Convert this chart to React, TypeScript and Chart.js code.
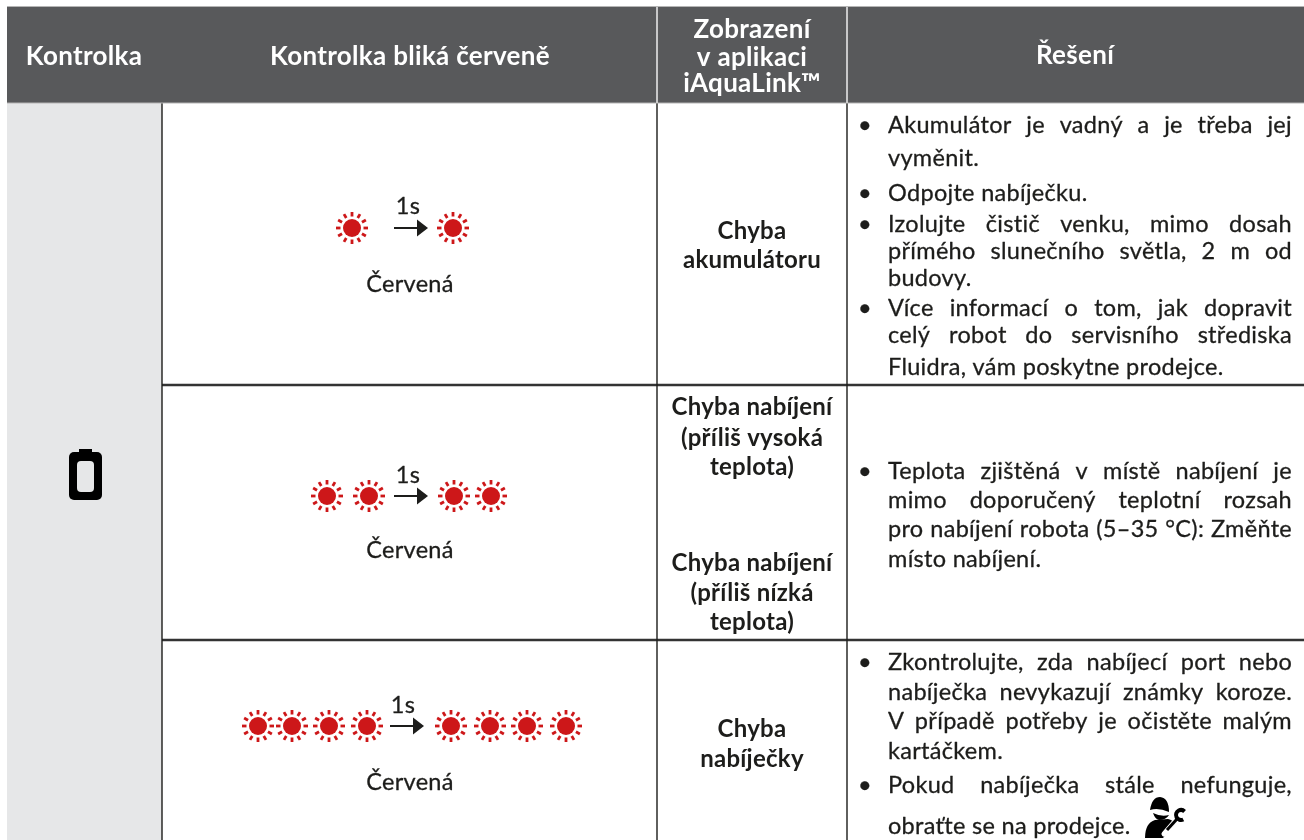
import React, { useEffect, useRef } from "react";
import { Chart, registerables } from "chart.js";

Chart.register(...registerables);

// ---- content ----
const headerLabels = [["Kontrolka"], ["Kontrolka bliká červeně"], ["Zobrazení", "v aplikaci", "iAquaLink™"], ["Řešení"]];
const colourLabels = ["Červená", "Červená", "Červená"];
const intervalLabel = "1s";
const appLabels = ["Chyba", "akumulátoru", "Chyba nabíjení", "(příliš vysoká", "teplota)", "Chyba nabíjení", "(příliš nízká", "teplota)", "Chyba", "nabíječky"];
const solutionLines = [
  "Akumulátor je vadný a je třeba jej", "vyměnit.", "Odpojte nabíječku.",
  "Izolujte čistič venku, mimo dosah", "přímého slunečního světla, 2 m od", "budovy.",
  "Více informací o tom, jak dopravit", "celý robot do servisního střediska", "Fluidra, vám poskytne prodejce.",
  "Teplota zjištěná v místě nabíjení je", "mimo doporučený teplotní rozsah", "pro nabíjení robota (5–35 °C): Změňte", "místo nabíjení.",
  "Zkontrolujte, zda nabíjecí port nebo", "nabíječka nevykazují známky koroze.", "V případě potřeby je očistěte malým", "kartáčkem.",
  "Pokud nabíječka stále nefunguje,", "obraťte se na prodejce.",
];
const solutionBullets = [0, 2, 3, 6, 9, 13, 17];
const solutionJustified = [0, 3, 4, 6, 7, 9, 10, 11, 13, 14, 15, 17];

// ---- blink markers ----
const blinkX = [352, 453, 327, 369, 454, 491, 258, 292, 329, 367, 451, 490, 527, 566];
const blinkY = [228, 228, 496, 496, 496, 496, 726, 726, 726, 726, 726, 726, 726, 726];

// ---- table geometry ----
const colEdges = [7, 162, 657, 847, 1304];
const headerTop = 7;
const headerBottom = 103;
const rowEdges = [385, 640];
const pageBottom = 840;

// ---- text baselines ----
const solutionY = [133, 166, 201, 232, 259, 286, 316, 343, 375, 479, 508, 537, 567, 670, 700, 729, 759, 793, 834];
const appY = [239, 268, 415, 446, 475, 571, 601, 630, 737, 767];
const colourY = [292, 558, 790];
const colourX = 410;
const headerY = [[65], [65], [38, 66, 92], [64]];
const headerX = [84, 410, 752, 1075];
const arrows = [{ x0: 394, x1: 428, y: 228, labelX: 408, labelY: 214 }, { x0: 394, x1: 428, y: 496, labelX: 408, labelY: 483 }, { x0: 390, x1: 424, y: 726, labelX: 403, labelY: 713 }];
const textLeft = 888;
const textRight = 1292;
const bulletX = 865;

const FONT = "Lato";
const INK = "#1d1d1b";
const BODY = `23.5px ${FONT}`;
const BOLD = `bold 24px ${FONT}`;
const HEAD = `bold 26px ${FONT}`;

function makeSun(): HTMLCanvasElement {
  const c = document.createElement("canvas");
  c.width = 36;
  c.height = 36;
  const g = c.getContext("2d")!;
  g.translate(18, 18);
  g.fillStyle = "#cd1719";
  g.strokeStyle = "#cd1719";
  g.beginPath();
  g.arc(0, 0, 9, 0, Math.PI * 2);
  g.fill();
  g.lineWidth = 2.8;
  for (let i = 0; i < 12; i++) {
    const a = (i * Math.PI) / 6;
    g.beginPath();
    g.moveTo(Math.cos(a) * 11.5, Math.sin(a) * 11.5);
    g.lineTo(Math.cos(a) * 16, Math.sin(a) * 16);
    g.stroke();
  }
  return c;
}

const tablePlugin = {
  id: "tablePlugin",
  beforeDatasetsDraw(chart: any) {
    const { ctx, scales } = chart;
    const X = (v: number) => scales.x.getPixelForValue(v);
    const Y = (v: number) => scales.y.getPixelForValue(v);
    const rect = (x0: number, y0: number, x1: number, y1: number, c: string) => {
      ctx.fillStyle = c;
      ctx.fillRect(X(x0), Y(y0), X(x1) - X(x0), Y(y1) - Y(y0));
    };
    ctx.save();
    rect(0, 0, 1304, 840, "#ffffff");
    rect(colEdges[0], headerTop - 1, colEdges[4], headerTop, "#b5b5b5");
    rect(colEdges[0], headerTop, colEdges[4], headerBottom, "#58595b");
    rect(colEdges[0], headerBottom, colEdges[1], pageBottom, "#e6e7e8");
    ctx.restore();
  },
  afterDatasetsDraw(chart: any) {
    const { ctx, scales } = chart;
    const X = (v: number) => scales.x.getPixelForValue(v);
    const Y = (v: number) => scales.y.getPixelForValue(v);
    const heavy = (t: string, x: number, y: number) => {
      ctx.fillText(t, x, y);
      ctx.strokeText(t, x, y);
    };
    ctx.save();
    ctx.textBaseline = "alphabetic";
    ctx.lineJoin = "round";

    // header
    ctx.fillStyle = "#ffffff";
    ctx.font = HEAD;
    (ctx as any).letterSpacing = "0.3px";
    ctx.textAlign = "center";
    headerLabels.forEach((lines, c) => lines.forEach((t, i) => ctx.fillText(t, X(headerX[c]), Y(headerY[c][i]))));

    // app column
    ctx.fillStyle = INK;
    ctx.font = BOLD;
    (ctx as any).letterSpacing = "0.25px";
    appLabels.forEach((t, i) => ctx.fillText(t, X(752), Y(appY[i])));

    // blink column
    ctx.strokeStyle = INK;
    ctx.lineWidth = 0.3;
    ctx.font = BODY;
    (ctx as any).letterSpacing = "0.3px";
    colourLabels.forEach((t, i) => heavy(t, X(colourX), Y(colourY[i])));
    arrows.forEach((a) => {
      ctx.fillStyle = INK;
      heavy(intervalLabel, X(a.labelX), Y(a.labelY));
      ctx.fillRect(X(a.x0), Y(a.y) - 1, X(a.x1 - 8) - X(a.x0), 2);
      ctx.beginPath();
      ctx.moveTo(X(a.x1), Y(a.y));
      ctx.lineTo(X(a.x1 - 11), Y(a.y - 8.5));
      ctx.lineTo(X(a.x1 - 11), Y(a.y + 8.5));
      ctx.closePath();
      ctx.fill();
    });

    // solution column
    ctx.textAlign = "left";
    solutionLines.forEach((t, i) => {
      const spaces = t.split(" ").length - 1;
      const w = ctx.measureText(t).width;
      const extra = solutionJustified.includes(i) && spaces ? (X(textRight) - X(textLeft) - w) / spaces : 0;
      (ctx as any).wordSpacing = `${extra}px`;
      heavy(t, X(textLeft), Y(solutionY[i]));
      (ctx as any).wordSpacing = "0px";
      if (solutionBullets.includes(i)) heavy("•", X(bulletX - 7), Y(solutionY[i]));
    });
    (ctx as any).letterSpacing = "0px";

    // battery icon
    ctx.fillStyle = "#000000";
    ctx.beginPath();
    ctx.roundRect(X(69), Y(452), X(102) - X(69), Y(500) - Y(452), 5);
    ctx.fill();
    ctx.fillRect(X(79), Y(449), X(92) - X(79), 4);
    ctx.fillStyle = "#e6e7e8";
    ctx.beginPath();
    ctx.roundRect(X(77), Y(461), X(94) - X(77), Y(492) - Y(461), 4);
    ctx.fill();

    // technician icon
    ctx.fillStyle = "#000000";
    ctx.beginPath(); // cap
    ctx.moveTo(X(1150), Y(810));
    ctx.quadraticCurveTo(X(1152), Y(797), X(1160), Y(797));
    ctx.quadraticCurveTo(X(1169), Y(798), X(1169), Y(812));
    ctx.quadraticCurveTo(X(1158), Y(807), X(1150), Y(810));
    ctx.fill();
    ctx.beginPath(); // face
    ctx.moveTo(X(1153), Y(813));
    ctx.quadraticCurveTo(X(1161), Y(817), X(1169), Y(815));
    ctx.quadraticCurveTo(X(1166), Y(820), X(1159), Y(820));
    ctx.quadraticCurveTo(X(1155), Y(819), X(1153), Y(813));
    ctx.fill();
    ctx.beginPath(); // body
    ctx.moveTo(X(1145), Y(838));
    ctx.quadraticCurveTo(X(1145), Y(823), X(1155), Y(820));
    ctx.lineTo(X(1168), Y(819));
    ctx.quadraticCurveTo(X(1173), Y(820), X(1175), Y(824));
    ctx.lineTo(X(1163), Y(838));
    ctx.closePath();
    ctx.fill();
    ctx.strokeStyle = "#ffffff"; // wrench handle
    ctx.lineWidth = 5;
    ctx.lineCap = "round";
    ctx.beginPath();
    ctx.moveTo(X(1164), Y(834));
    ctx.lineTo(X(1176), Y(820));
    ctx.stroke();
    ctx.strokeStyle = "#000000";
    ctx.lineCap = "butt";
    ctx.lineWidth = 4;
    ctx.beginPath();
    ctx.arc(X(1181), Y(815), 5, Math.PI * 0.35, Math.PI * 1.75);
    ctx.stroke();
    ctx.lineWidth = 3;
    ctx.beginPath();
    ctx.moveTo(X(1177), Y(819));
    ctx.lineTo(X(1167), Y(830));
    ctx.stroke();
    ctx.restore();
  },
};

const rule = (pts: { x: number; y: number }[], color: string, width: number) => ({
  type: "line" as const,
  data: pts,
  borderColor: color,
  borderWidth: width,
  pointRadius: 0,
  tension: 0,
  fill: false,
});

export default function App() {
  const ref = useRef<HTMLCanvasElement>(null);
  useEffect(() => {
    document.body.style.margin = "0";
    const chart = new Chart(ref.current!, {
      type: "scatter",
      data: {
        datasets: [
          rule([{ x: colEdges[2], y: headerTop }, { x: colEdges[2], y: headerBottom }], "#d9d9d9", 1),
          rule([{ x: colEdges[3], y: headerTop }, { x: colEdges[3], y: headerBottom }], "#d9d9d9", 1),
          rule([{ x: colEdges[0], y: headerBottom }, { x: colEdges[4], y: headerBottom }], "#b5b5b5", 1),
          rule([{ x: colEdges[1], y: headerBottom }, { x: colEdges[1], y: pageBottom }], "#1d1d1b", 1.4),
          rule([{ x: colEdges[2], y: headerBottom }, { x: colEdges[2], y: pageBottom }], "#1d1d1b", 1.4),
          rule([{ x: colEdges[3], y: headerBottom }, { x: colEdges[3], y: pageBottom }], "#1d1d1b", 1.4),
          rule([{ x: colEdges[1], y: rowEdges[0] }, { x: colEdges[4], y: rowEdges[0] }], "#333333", 2.4),
          rule([{ x: colEdges[1], y: rowEdges[1] }, { x: colEdges[4], y: rowEdges[1] }], "#333333", 2.4),
          {
            type: "scatter" as const,
            data: blinkX.map((x, i) => ({ x, y: blinkY[i] })),
            pointStyle: makeSun(),
            pointRadius: 18,
          } as any,
        ],
      },
      options: {
        responsive: false,
        animation: false,
        events: [],
        layout: { padding: 0, autoPadding: false },
        plugins: { legend: { display: false }, title: { display: false }, tooltip: { enabled: false } },
        scales: {
          x: { type: "linear", display: false, min: 0, max: 1304 },
          y: { type: "linear", display: false, min: 0, max: 840, reverse: true },
        },
      },
      plugins: [tablePlugin],
    });
    return () => chart.destroy();
  }, []);
  return (
    <div style={{ position: "fixed", left: 0, top: 0, width: 1304, height: 840, overflow: "hidden", background: "#fff" }}>
      <canvas ref={ref} width={1304} height={840} style={{ display: "block" }} />
    </div>
  );
}
